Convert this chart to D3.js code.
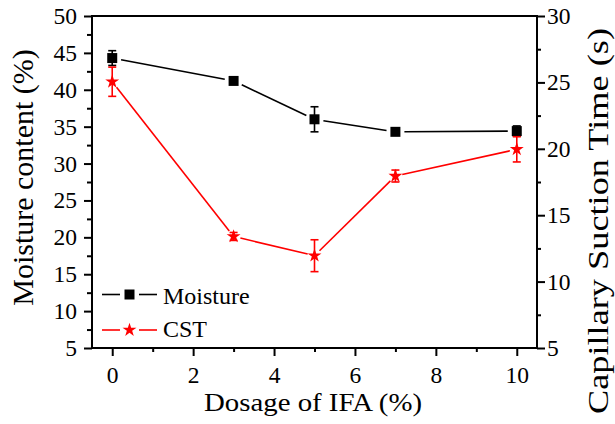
<!DOCTYPE html>
<html><head><meta charset="utf-8">
<script src="https://cdn.jsdelivr.net/npm/d3@7"></script>
</head><body style="margin:0;background:#fff">
<svg id="c" width="615" height="424" font-family="Liberation Serif" style="display:block"></svg>
<script>
const dosage = [0, 3, 5, 7, 10];
const moisture = [44.3, 41.2, 36.0, 34.3, 34.4];
const moistureErr = [1.0, 0.3, 1.7, 0.3, 0.7];
const cst = [25.05, 13.4, 11.95, 17.95, 19.96];
const cstErr = [1.1, 0.3, 1.2, 0.45, 0.95];
const xTicks = [0, 2, 4, 6, 8, 10];
const leftTicks = [5, 10, 15, 20, 25, 30, 35, 40, 45, 50];
const rightTicks = [5, 10, 15, 20, 25, 30];

const FF = "Liberation Serif";
const svg = d3.select("#c");
const L = 92, R = 537, T = 16, B = 348;
const x = d3.scaleLinear().domain([-0.5, 10.5]).range([L, R]);
const yL = d3.scaleLinear().domain([5, 50]).range([B, T]);
const yR = d3.scaleLinear().domain([5, 30]).range([B, T]);

const fs = 23.5;
function styleAxis(g) {
  g.attr("font-family", FF).attr("font-size", fs);
  g.select(".domain").remove();
  g.selectAll(".tick line").attr("stroke-width", 2).attr("stroke", "#000");
  g.selectAll(".tick text").attr("fill", "#000").attr("font-family", FF).attr("font-size", fs);
}
svg.append("g").attr("transform", `translate(0,${B})`)
  .call(d3.axisBottom(x).tickValues([1,3,5,7,9]).tickSize(4).tickFormat("")).call(styleAxis);
svg.append("g").attr("transform", `translate(0,${B})`)
  .call(d3.axisBottom(x).tickValues(xTicks).tickSize(8).tickPadding(10).tickFormat(d3.format("d"))).call(styleAxis);
svg.append("g").attr("transform", `translate(${L},0)`)
  .call(d3.axisLeft(yL).tickValues(d3.range(7.5, 50, 5)).tickSize(5).tickFormat("")).call(styleAxis);
svg.append("g").attr("transform", `translate(${L},0)`)
  .call(d3.axisLeft(yL).tickValues(leftTicks).tickSize(8).tickPadding(7).tickFormat(d3.format("d"))).call(styleAxis);
svg.append("g").attr("transform", `translate(${R},0)`)
  .call(d3.axisRight(yR).tickValues(d3.range(7.5, 30, 5)).tickSize(4).tickFormat("")).call(styleAxis);
svg.append("g").attr("transform", `translate(${R},0)`)
  .call(d3.axisRight(yR).tickValues(rightTicks).tickSize(8).tickPadding(2).tickFormat(d3.format("d"))).call(styleAxis);

[[L,R,T,T],[L,R,B,B],[L,L,T-1,B+1],[R,R,T-1,B+1]].forEach(([x1,x2,y1,y2])=>
  svg.append("line").attr("x1", x1).attr("x2", x2).attr("y1", y1).attr("y2", y2).attr("stroke", "#000").attr("stroke-width", 2));

function series(vals, errs, y, color, sym, size, gap) {
  const g = svg.append("g");
  const pts = dosage.map((d,i)=>[x(d), y(vals[i])]);
  for (let i = 0; i < pts.length - 1; i++) {
    const [x1,y1] = pts[i], [x2,y2] = pts[i+1];
    const len = Math.hypot(x2-x1, y2-y1), ux = (x2-x1)/len, uy = (y2-y1)/len;
    g.append("line").attr("x1", x1+ux*gap).attr("y1", y1+uy*gap).attr("x2", x2-ux*gap).attr("y2", y2-uy*gap)
      .attr("stroke", color).attr("stroke-width", 1.6);
  }
  dosage.forEach((d,i)=>{
    const cx = x(d), y1 = y(vals[i]+errs[i]), y2 = y(vals[i]-errs[i]);
    g.append("line").attr("x1", cx).attr("x2", cx).attr("y1", y1).attr("y2", y2).attr("stroke", color).attr("stroke-width", 1.6);
    [y1, y2].forEach(yy => g.append("line").attr("x1", cx-4).attr("x2", cx+4).attr("y1", yy).attr("y2", yy).attr("stroke", color).attr("stroke-width", 1.6));
  });
  g.selectAll("path.m").data(dosage).enter().append("path")
    .attr("transform", (d,i)=>`translate(${x(d)},${y(vals[i])})`)
    .attr("d", d3.symbol().type(sym).size(size)).attr("fill", color);
}
series(moisture, moistureErr, yL, "#000", d3.symbolSquare, 100, 9);
series(cst, cstErr, yR, "#ff0000", d3.symbolStar, 60, 7);

const leg = [["Moisture", "#000", d3.symbolSquare, 100, 294.5, 303.5], ["CST", "#ff0000", d3.symbolStar, 60, 330, 337]];
leg.forEach(([name, color, sym, size, yy, tb])=>{
  svg.append("line").attr("x1", 102).attr("x2", 120).attr("y1", yy).attr("y2", yy).attr("stroke", color).attr("stroke-width", 1.6);
  svg.append("line").attr("x1", 139).attr("x2", 157).attr("y1", yy).attr("y2", yy).attr("stroke", color).attr("stroke-width", 1.6);
  svg.append("path").attr("transform", `translate(129.5,${yy})`).attr("d", d3.symbol().type(sym).size(size)).attr("fill", color);
  svg.append("text").attr("x", 163).attr("y", tb).attr("font-size", 24).attr("font-family", FF).text(name);
});

svg.append("text").attr("x", 313).attr("y", 410.5).attr("text-anchor", "middle").attr("font-size", 26)
  .attr("font-family", FF).attr("textLength", 218).attr("lengthAdjust", "spacingAndGlyphs").text("Dosage of IFA (%)");
svg.append("text").attr("transform", "translate(33,177.5) rotate(-90)").attr("text-anchor", "middle").attr("font-size", 30)
  .attr("font-family", FF).text("Moisture content (%)");
svg.append("text").attr("transform", "translate(608,221) rotate(-90)").attr("text-anchor", "middle").attr("font-size", 29)
  .attr("font-family", FF).attr("textLength", 386).attr("lengthAdjust", "spacingAndGlyphs").text("Capillary Suction Time (s)");
</script>
</body></html>
